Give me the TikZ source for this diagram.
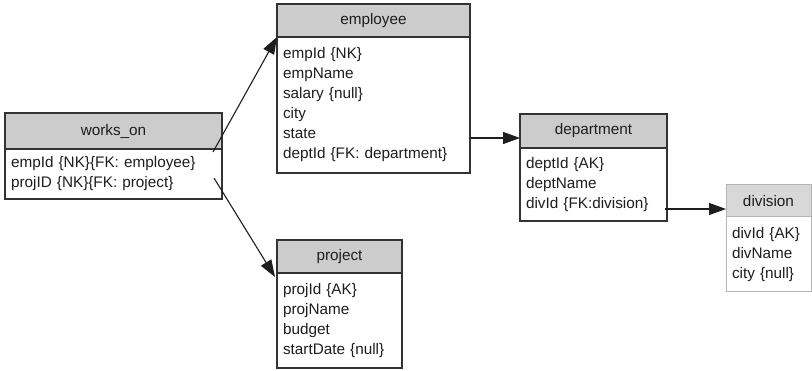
\documentclass[tikz,border=0pt]{standalone}
\usepackage{fontspec}
\setmainfont{Liberation Sans}
\usetikzlibrary{arrows.meta,positioning,calc}
\definecolor{ink}{HTML}{1E1E1E}
\definecolor{bd}{HTML}{333333}
\definecolor{hd}{HTML}{CCCCCC}
\definecolor{lbd}{HTML}{B4B4B4}
\definecolor{lhd}{HTML}{D8D8D8}
\tikzset{
  thead/.style={draw=bd,fill=hd,line width=1.3pt,outer sep=0pt,inner sep=2pt,align=center,text=ink,font=\fontsize{15.3}{20}\selectfont},
  tbody/.style={draw=bd,fill=white,line width=1.3pt,outer sep=0pt,inner xsep=6pt,inner ysep=3pt,align=left,text=ink,font=\fontsize{15.3}{20}\selectfont},
  lhead/.style={thead,draw=lbd,fill=lhd,line width=1pt},
  lbody/.style={tbody,draw=lbd,line width=1pt},
  fk/.style={-{Triangle[length=17pt,width=12pt]},line width=1.1pt,ink}
}

\begin{document}
\begin{tikzpicture}[x=1pt,y=-1pt]
\useasboundingbox (0,0) rectangle (812,371);
% ---------------- tables ----------------
\node[thead,minimum width=217pt,minimum height=36pt,anchor=north west] (wonh) at (5,113) {works\_on};
\node[tbody,text width=205pt,minimum height=50pt,below=0pt of wonh] (wonb) {empId \{NK\}\{FK: employee\}\\projID \{NK\}\{FK: project\}};
\node[thead,minimum width=193pt,minimum height=33pt,anchor=north west] (emph) at (277,4) {employee};
\node[tbody,text width=181pt,minimum height=136pt,below=0pt of emph] (empb) {empId \{NK\}\\empName\\salary \{null\}\\city\\state\\deptId \{FK: department\}};
\node[thead,minimum width=147pt,minimum height=34pt,anchor=north west] (deph) at (520,114) {department};
\node[tbody,text width=135pt,minimum height=73pt,below=0pt of deph] (depb) {deptId \{AK\}\\deptName\\divId \{FK:division\}};
\node[lhead,minimum width=85pt,minimum height=32pt,anchor=north west] (divh) at (726,185) {division};
\node[lbody,text width=73pt,minimum height=75pt,below=0pt of divh] (divb) {divId \{AK\}\\divName\\city \{null\}};
\node[thead,minimum width=125pt,minimum height=33pt,anchor=north west] (projh) at (277,240) {project};
\node[tbody,text width=113pt,minimum height=95pt,below=0pt of projh] (projb) {projId \{AK\}\\projName\\budget\\startDate \{null\}};
% ---------------- references ----------------
\draw[fk] ([xshift=-9pt,yshift=-3pt]wonb.north east) -- (emph.south west);
\draw[fk] ([xshift=-8pt,yshift=-4pt]wonb.east) -- ([xshift=-2pt,yshift=-4pt]projh.south west);
\draw[fk] ([yshift=-7pt]deph.west -| empb.east) -- ([yshift=-7pt]deph.west);
\draw[fk] ([xshift=-2pt,yshift=-8pt]divh.west -| depb.east) -- ([yshift=-8pt]divh.west);
\end{tikzpicture}
\end{document}
